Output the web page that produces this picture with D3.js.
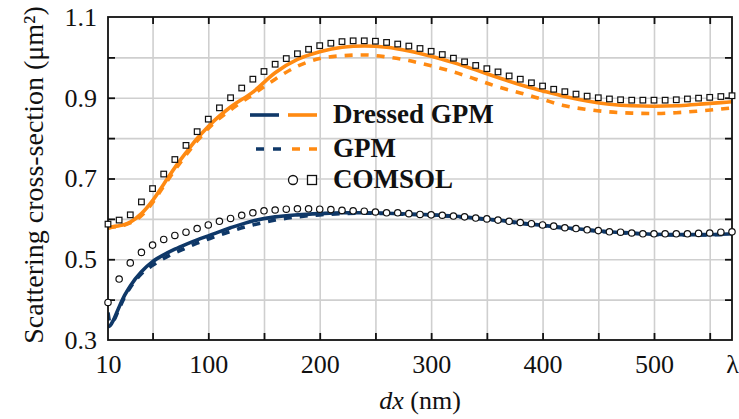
<!DOCTYPE html>
<html>
<head>
<meta charset="utf-8">
<script src="https://cdn.jsdelivr.net/npm/d3@7"></script>
<style>
  body { margin: 0; background: #fff; }
  svg text { font-family: "Liberation Serif", "DejaVu Serif", serif; fill: #111; }
</style>
</head>
<body>
<svg id="chart"></svg>
<script>
// values
var markerDx = [10,20,30,40,50,60,70,80,90,100,110,120,130,140,150,160,170,180,190,200,
                210,220,230,240,250,260,270,280,290,300,310,320,330,340,350,360,370,380,390,400,
                410,420,430,440,450,460,470,480,490,500,510,520,530,540,550,560,570];
var comsolOrange = [0.587,0.597,0.610,0.642,0.675,0.711,0.747,0.782,0.816,0.847,0.875,0.900,0.924,0.946,0.965,0.983,0.997,1.009,1.020,1.029,
                    1.035,1.039,1.041,1.041,1.040,1.037,1.033,1.028,1.022,1.015,1.007,0.998,0.989,0.980,0.972,0.964,0.954,0.946,0.937,0.929,
                    0.921,0.915,0.909,0.904,0.900,0.897,0.895,0.894,0.894,0.894,0.894,0.895,0.897,0.899,0.901,0.903,0.905];
var comsolNavy = [0.393,0.451,0.491,0.517,0.535,0.549,0.559,0.567,0.576,0.585,0.594,0.601,0.609,0.615,0.620,0.622,0.624,0.625,0.625,0.624,
                  0.623,0.621,0.620,0.619,0.617,0.615,0.615,0.613,0.611,0.610,0.609,0.607,0.605,0.602,0.600,0.597,0.594,0.591,0.588,0.585,
                  0.582,0.578,0.576,0.573,0.571,0.568,0.567,0.565,0.563,0.563,0.563,0.563,0.563,0.564,0.565,0.567,0.568];

var lineDx = [10,12,15,20,25,30,40,50,60,70,80,90,100,120,140,160,180,200,220,240,
              260,280,300,320,340,360,380,400,420,440,460,480,500,520,540,560,570];
var dressedOrange = [0.577,0.579,0.581,0.583,0.586,0.592,0.613,0.645,0.686,0.727,0.764,0.799,0.829,0.877,0.914,0.962,0.995,1.014,1.025,1.028,
                     1.025,1.016,1.003,0.987,0.969,0.950,0.932,0.917,0.903,0.892,0.884,0.880,0.879,0.880,0.884,0.888,0.890];
var gpmOrange = [0.577,0.578,0.580,0.582,0.585,0.590,0.608,0.640,0.681,0.721,0.758,0.793,0.824,0.870,0.908,0.946,0.978,0.997,1.004,1.006,
                 1.001,0.992,0.979,0.964,0.946,0.927,0.912,0.896,0.880,0.871,0.865,0.862,0.861,0.863,0.867,0.872,0.875];
var dressedNavy = [0.333,0.336,0.350,0.382,0.411,0.434,0.469,0.494,0.511,0.525,0.537,0.548,0.558,0.578,0.595,0.605,0.610,0.613,0.615,0.615,
                   0.614,0.612,0.610,0.607,0.602,0.597,0.590,0.584,0.578,0.573,0.568,0.565,0.562,0.561,0.561,0.562,0.563];
var gpmNavy = [0.368,0.342,0.348,0.378,0.407,0.430,0.464,0.485,0.502,0.516,0.528,0.540,0.550,0.569,0.585,0.597,0.605,0.610,0.613,0.614,
               0.613,0.611,0.609,0.606,0.601,0.596,0.589,0.583,0.577,0.572,0.567,0.564,0.561,0.560,0.560,0.561,0.562];

var xGrid = [50,100,150,200,250,300,350,400,450,500,550];
var xLabels = [10,100,200,300,400,500,570];
var yGrid = [0.4,0.5,0.6,0.7,0.8,0.9,1.0];
var yLabels = [0.3,0.5,0.7,0.9,1.1];
var legendItems = ["Dressed GPM", "GPM", "COMSOL"];

var orange = "#ff8a12", navy = "#0f3868";

var W = 739, H = 419;
var plotL = 108, plotR = 732, plotT = 17, plotB = 340;

var svg = d3.select("#chart").attr("width", W).attr("height", H);

var x = d3.scaleLinear().domain([10, 570]).range([plotL, plotR]);
var y = d3.scaleLinear().domain([0.3, 1.1]).range([plotB, plotT]);

// grid
svg.append("g")
   .attr("transform", "translate(0," + plotB + ")")
   .call(d3.axisBottom(x).tickValues(xGrid).tickSize(-(plotB - plotT)).tickFormat(""))
   .call(g => g.select(".domain").remove())
   .selectAll("line").attr("stroke", "#cfcfcf").attr("stroke-width", 1.6);
svg.append("g")
   .attr("transform", "translate(" + plotL + ",0)")
   .call(d3.axisLeft(y).tickValues(yGrid).tickSize(-(plotR - plotL)).tickFormat(""))
   .call(g => g.select(".domain").remove())
   .selectAll("line").attr("stroke", "#cfcfcf").attr("stroke-width", 1.6);

// curves
svg.append("defs").append("clipPath").attr("id", "plotclip")
   .append("rect").attr("x", plotL).attr("y", plotT).attr("width", plotR - plotL).attr("height", plotB - plotT);

var curves = [
  {vals: gpmOrange, color: orange, dash: "8,8"},
  {vals: dressedOrange, color: orange, dash: null},
  {vals: gpmNavy, color: navy, dash: "8,8"},
  {vals: dressedNavy, color: navy, dash: null}
];
var line = d3.line()
    .x(d => x(d[0]))
    .y(d => y(d[1]))
    .curve(d3.curveMonotoneX);

svg.append("g").attr("clip-path", "url(#plotclip)")
   .selectAll("path")
   .data(curves)
   .enter()
   .append("path")
     .attr("d", c => line(lineDx.map((d, i) => [d, c.vals[i]])))
     .attr("fill", "none")
     .attr("stroke", c => c.color)
     .attr("stroke-width", 3.6)
     .attr("stroke-dasharray", c => c.dash);

// frame + inner ticks
svg.append("rect")
   .attr("x", plotL).attr("y", plotT).attr("width", plotR - plotL).attr("height", plotB - plotT)
   .attr("fill", "none").attr("stroke", "#111").attr("stroke-width", 1.8);

var tickAxes = [
  {axis: d3.axisBottom(x).tickValues(xGrid), tr: "translate(0," + plotB + ")"},
  {axis: d3.axisTop(x).tickValues(xGrid), tr: "translate(0," + plotT + ")"},
  {axis: d3.axisLeft(y).tickValues(yGrid), tr: "translate(" + plotL + ",0)"},
  {axis: d3.axisRight(y).tickValues(yGrid), tr: "translate(" + plotR + ",0)"}
];
tickAxes.forEach(function(t) {
  svg.append("g").attr("transform", t.tr)
     .call(t.axis.tickSize(-7).tickFormat(""))
     .call(g => g.select(".domain").remove())
     .selectAll("line").attr("stroke", "#111").attr("stroke-width", 1.8);
});

// tick labels
svg.append("g")
   .attr("transform", "translate(0," + plotB + ")")
   .call(d3.axisBottom(x).tickValues(xLabels).tickSize(0).tickPadding(15)
           .tickFormat(d => d === 570 ? "λ" : d))
   .call(g => g.select(".domain").remove())
   .selectAll("text").attr("font-size", 26).attr("font-family", "Liberation Serif").attr("fill", "#111");
svg.append("g")
   .attr("transform", "translate(" + plotL + ",0)")
   .call(d3.axisLeft(y).tickValues(yLabels).tickSize(0).tickPadding(11).tickFormat(d3.format(".1f")))
   .call(g => g.select(".domain").remove())
   .selectAll("text").attr("font-size", 26).attr("font-family", "Liberation Serif").attr("fill", "#111");

// axis titles
var xt = svg.append("text")
   .attr("x", (plotL + plotR) / 2).attr("y", 409)
   .attr("text-anchor", "middle").attr("font-size", 26);
xt.append("tspan").attr("font-style", "italic").text("dx");
xt.append("tspan").text(" (nm)");

svg.append("text")
   .attr("transform", "translate(43,175) rotate(-90)")
   .attr("text-anchor", "middle").attr("font-size", 28)
   .text("Scattering cross-section (μm²)");

// COMSOL markers
svg.append("g").selectAll("rect")
   .data(markerDx.map((d, i) => [d, comsolOrange[i]]))
   .enter()
   .append("rect")
     .attr("x", d => x(d[0]) - 2.8).attr("y", d => y(d[1]) - 2.8)
     .attr("width", 5.6).attr("height", 5.6)
     .attr("fill", "#fff").attr("stroke", "#111").attr("stroke-width", 1.2);
svg.append("g").selectAll("circle")
   .data(markerDx.map((d, i) => [d, comsolNavy[i]]))
   .enter()
   .append("circle")
     .attr("cx", d => x(d[0])).attr("cy", d => y(d[1])).attr("r", 3.2)
     .attr("fill", "#fff").attr("stroke", "#111").attr("stroke-width", 1.2);

// legend
var lg = svg.append("g");
var rows = [115, 149, 180];
lg.selectAll("text.lab")
  .data(legendItems)
  .enter()
  .append("text")
    .attr("class", "lab")
    .attr("x", 333).attr("y", (d, i) => rows[i] + 8)
    .attr("font-size", 27).attr("font-weight", "bold")
    .text(d => d);

lg.append("line").attr("x1", 250).attr("x2", 279).attr("y1", rows[0]).attr("y2", rows[0])
  .attr("stroke", navy).attr("stroke-width", 3.6);
lg.append("line").attr("x1", 288).attr("x2", 317).attr("y1", rows[0]).attr("y2", rows[0])
  .attr("stroke", orange).attr("stroke-width", 3.6);
lg.append("line").attr("x1", 256).attr("x2", 281).attr("y1", rows[1]).attr("y2", rows[1])
  .attr("stroke", navy).attr("stroke-width", 3.6).attr("stroke-dasharray", "8,9");
lg.append("line").attr("x1", 292).attr("x2", 317).attr("y1", rows[1]).attr("y2", rows[1])
  .attr("stroke", orange).attr("stroke-width", 3.6).attr("stroke-dasharray", "8,9");
lg.append("circle").attr("cx", 293).attr("cy", rows[2]).attr("r", 4.5)
  .attr("fill", "#fff").attr("stroke", "#111").attr("stroke-width", 1.3);
lg.append("rect").attr("x", 307.5).attr("y", rows[2] - 4.5).attr("width", 9).attr("height", 9)
  .attr("fill", "#fff").attr("stroke", "#111").attr("stroke-width", 1.3);
</script>
</body>
</html>
